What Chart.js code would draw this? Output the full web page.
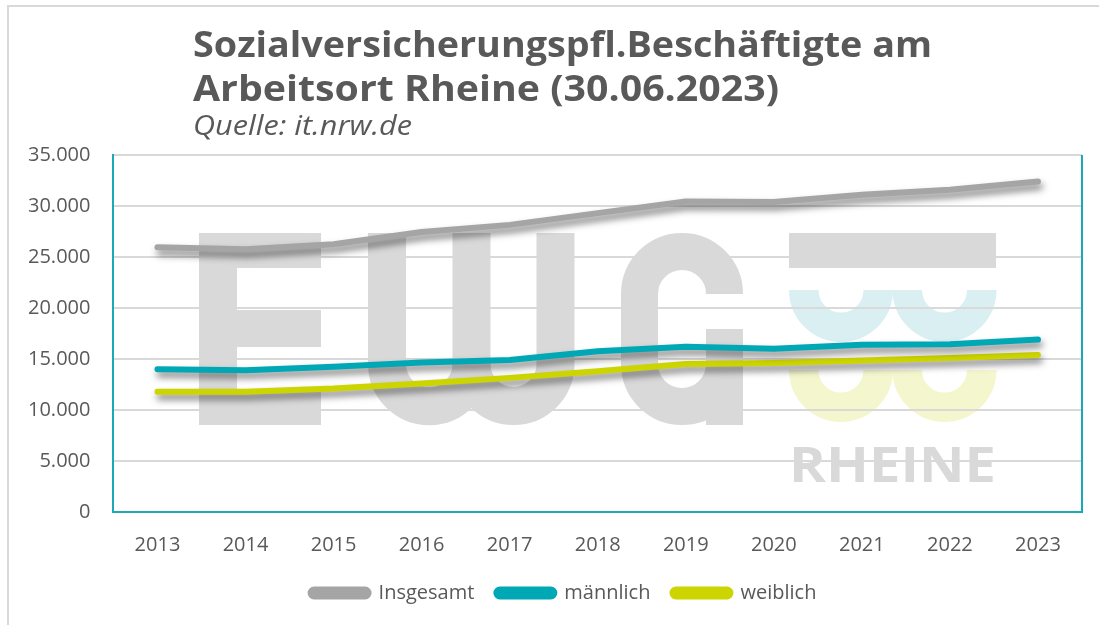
<!DOCTYPE html>
<html>
<head>
<meta charset="utf-8">
<script src="https://cdn.jsdelivr.net/npm/chart.js@4"></script>
<style>
  body { margin: 0; background: #fff; overflow: hidden; }
  #wrap { position: relative; width: 1099px; height: 625px; }
  #frame { position: absolute; left: 7px; top: 5px; right: -10px; bottom: -10px;
           border-top: 2px solid #D9D9D9; border-left: 2px solid #D9D9D9; }
  #chartBox { position: absolute; left: 0; top: 0; width: 1099px; height: 625px; }
  .ttl { position: absolute; left: 193px; color: #595959; white-space: nowrap;
         font-family: "Open Sans", sans-serif; transform-origin: left center; }
  .ttl.main { font-weight: bold; font-size: 36px; line-height: 44px; }
  .ttl.sub { font-style: italic; font-size: 27px; line-height: 30px; }
</style>
</head>
<body>
<div id="wrap">
  <div id="frame"></div>
  <div id="chartBox"><canvas id="myChart"></canvas></div>
  <div class="ttl main" id="t1" style="top:22px">Sozialversicherungspfl.Beschäftigte am</div>
  <div class="ttl main" id="t2" style="top:66px">Arbeitsort Rheine (30.06.2023)</div>
  <div class="ttl sub" id="t3" style="top:110px">Quelle: it.nrw.de</div>
</div>
<script>
var jahre = ["2013", "2014", "2015", "2016", "2017", "2018", "2019", "2020", "2021", "2022", "2023"];
var insgesamt = [25950, 25750, 26250, 27450, 28150, 29300, 30450, 30400, 31100, 31600, 32400];
var maennlich = [14000, 13900, 14250, 14650, 14900, 15750, 16200, 16000, 16400, 16450, 16900];
var weiblich = [11800, 11800, 12100, 12600, 13150, 13800, 14500, 14600, 14850, 15100, 15400];
var yTicks = [0, 5000, 10000, 15000, 20000, 25000, 30000, 35000];

// squeeze the title lines to the width they have in the original
function fitText(id, target) {
  var el = document.getElementById(id);
  var w = el.getBoundingClientRect().width;
  if (w > 0) el.style.transform = "scaleX(" + (target / w) + ")";
}
fitText("t1", 739);
fitText("t2", 586);
fitText("t3", 219);

function fmt(v) {
  return String(v).replace(/\B(?=(\d{3})+(?!\d))/g, ".");
}

// EWG RHEINE logo in the background
var watermark = {
  id: "watermark",
  beforeDraw: function (chart) {
    var c = chart.ctx;
    c.save();
    c.fillStyle = "#D9D9D9";
    c.strokeStyle = "#D9D9D9";
    // E
    c.fillRect(199, 233, 38, 192);
    c.fillRect(199, 233, 122, 35);
    c.fillRect(237, 310, 84, 37);
    c.fillRect(199, 390, 122, 35);
    // W
    c.lineWidth = 38;
    c.lineCap = "butt";
    c.beginPath();
    c.moveTo(387, 233);
    c.lineTo(387, 364);
    c.arc(429.25, 364, 42.25, Math.PI, 0, true);
    c.lineTo(471.5, 233);
    c.stroke();
    c.beginPath();
    c.moveTo(471.5, 364);
    c.arc(513.5, 364, 42, Math.PI, 0, true);
    c.lineTo(555.5, 233);
    c.stroke();
    // G
    c.lineWidth = 37;
    c.beginPath();
    c.arc(682, 294, 42.5, 0, Math.PI, true);
    c.lineTo(639.5, 364);
    c.arc(682, 364, 42.5, Math.PI, 0, true);
    c.lineTo(724.5, 329);
    c.stroke();
    c.fillRect(706, 329, 37, 96);
    // logo bar + cups
    c.fillRect(789, 233, 207, 35);
    c.lineWidth = 29.5;
    c.strokeStyle = "#DAEFF2";
    c.beginPath();
    c.arc(841, 290, 37.25, Math.PI, 0, true);
    c.stroke();
    c.beginPath();
    c.arc(944.5, 290, 37.25, Math.PI, 0, true);
    c.stroke();
    c.strokeStyle = "#F4F7CE";
    c.beginPath();
    c.arc(841, 370, 37.25, Math.PI, 0, true);
    c.stroke();
    c.beginPath();
    c.arc(944.5, 370, 37.25, Math.PI, 0, true);
    c.stroke();
    // RHEINE
    c.font = "bold 49px 'Open Sans', sans-serif";
    c.textBaseline = "alphabetic";
    var tw = c.measureText("RHEINE").width;
    c.translate(789, 482);
    c.scale(207 / tw, 1);
    c.fillText("RHEINE", 0, 0);
    c.restore();
  },
};

// drop shadow under the lines
var lineShadow = {
  id: "lineShadow",
  beforeDatasetDraw: function (chart) {
    var c = chart.ctx;
    c.save();
    c.shadowColor = "rgba(0,0,0,0.5)";
    c.shadowBlur = 7;
    c.shadowOffsetX = 2;
    c.shadowOffsetY = 5;
  },
  afterDatasetDraw: function (chart) {
    chart.ctx.restore();
  },
};

// teal frame on the right side of the plot
var rightBorder = {
  id: "rightBorder",
  beforeDatasetsDraw: function (chart) {
    var a = chart.chartArea;
    var c = chart.ctx;
    c.save();
    c.strokeStyle = "#1AA9B6";
    c.lineWidth = 2;
    c.beginPath();
    c.moveTo(a.right, a.top);
    c.lineTo(a.right, a.bottom);
    c.stroke();
    c.restore();
  },
};

// nudge the legend a bit up and to the right
var legendShift = {
  id: "legendShift",
  afterLayout: function (chart) {
    var lg = chart.legend;
    if (!lg) return;
    lg.top -= 9;
    lg.bottom -= 9;
    lg.left += 20;
    lg.right += 20;
  },
};

var lineStyle = {
  borderWidth: 6,
  pointRadius: 0,
  pointHoverRadius: 0,
  tension: 0,
  borderCapStyle: "round",
  borderJoinStyle: "round",
};

var ctx = document.getElementById("myChart").getContext("2d");
var myChart = new Chart(ctx, {
  type: "line",
  data: {
    labels: jahre,
    datasets: [
      Object.assign({ label: "Insgesamt", data: insgesamt, borderColor: "#A5A5A5", backgroundColor: "#A5A5A5" }, lineStyle),
      Object.assign({ label: "männlich", data: maennlich, borderColor: "#00A8B5", backgroundColor: "#00A8B5" }, lineStyle),
      Object.assign({ label: "weiblich", data: weiblich, borderColor: "#CCD500", backgroundColor: "#CCD500" }, lineStyle),
    ],
  },
  options: {
    responsive: true,
    maintainAspectRatio: false,
    animation: false,
    layout: {
      padding: { left: 5, right: 17, top: 155, bottom: 3 },
    },
    scales: {
      x: {
        offset: true,
        grid: { display: false },
        border: { display: true, color: "#1AA9B6", width: 2 },
        ticks: {
          color: "#595959",
          padding: 15,
          font: { family: "'Open Sans', sans-serif", size: 20, lineHeight: 1 },
        },
      },
      y: {
        min: 0,
        max: 35000,
        afterBuildTicks: function (scale) {
          scale.ticks = yTicks.map(function (v) { return { value: v }; });
        },
        grid: { color: "#D9D9D9", lineWidth: 2, drawTicks: false },
        border: { display: true, color: "#1AA9B6", width: 2 },
        ticks: {
          color: "#595959",
          padding: 23,
          font: { family: "'Open Sans', sans-serif", size: 20 },
          callback: function (v) { return fmt(v); },
        },
      },
    },
    plugins: {
      legend: {
        display: true,
        position: "bottom",
        labels: {
          color: "#595959",
          font: { family: "'Open Sans', sans-serif", size: 20 },
          boxWidth: 58,
          boxHeight: 7,
          useBorderRadius: true,
          borderRadius: 3.5,
          padding: 22,
        },
      },
      tooltip: { enabled: false },
    },
  },
  plugins: [watermark, lineShadow, rightBorder, legendShift],
});
</script>
</body>
</html>
